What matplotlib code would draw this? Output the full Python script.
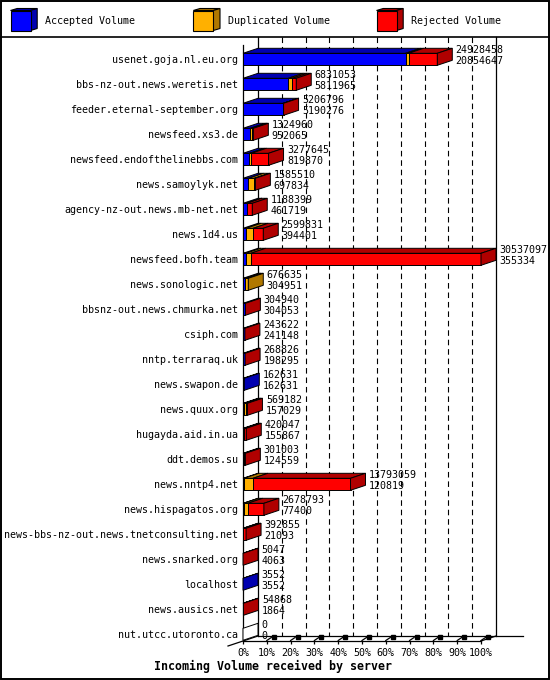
import numpy as np
import matplotlib
matplotlib.use("Agg")
import matplotlib.pyplot as plt
from matplotlib.patches import Polygon, Rectangle

servers = [
    "usenet.goja.nl.eu.org", "bbs-nz-out.news.weretis.net", "feeder.eternal-september.org",
    "newsfeed.xs3.de", "newsfeed.endofthelinebbs.com", "news.samoylyk.net",
    "agency-nz-out.news.mb-net.net", "news.1d4.us", "newsfeed.bofh.team",
    "news.sonologic.net", "bbsnz-out.news.chmurka.net", "csiph.com",
    "nntp.terraraq.uk", "news.swapon.de", "news.quux.org", "hugayda.aid.in.ua",
    "ddt.demos.su", "news.nntp4.net", "news.hispagatos.org",
    "news-bbs-nz-out.news.tnetconsulting.net", "news.snarked.org", "localhost",
    "news.ausics.net", "nut.utcc.utoronto.ca",
]
total_volume = [24928458, 6831053, 5206796, 1324960, 3277645, 1585510, 1188399, 2599831,
                30537097, 676635, 304940, 243622, 268826, 162631, 569182, 420047,
                301003, 13793059, 2678793, 392855, 5047, 3552, 54868, 0]
accepted_volume = [20854647, 5811965, 5190276, 952065, 819870, 697834, 461719, 394401,
                   355334, 304951, 304053, 241148, 198295, 162631, 157029, 155867,
                   124559, 120819, 77400, 21093, 4063, 3552, 1864, 0]
# duplicated volume is not printed on the chart, estimated from the bar segments
duplicated_volume = [400000, 480000, 10000, 180000, 250000, 760000, 20000, 900000,
                     620000, 371684, 0, 0, 0, 0, 200000, 0,
                     0, 1150000, 520000, 0, 0, 0, 0, 0]
rejected_volume = [t - a - d for t, a, d in zip(total_volume, accepted_volume, duplicated_volume)]

series = ["Accepted Volume", "Duplicated Volume", "Rejected Volume"]
front_colors = ["#0000ff", "#ffb000", "#ff0000"]
dark_colors = ["#0000b0", "#b07800", "#b00000"]
pct_ticks = list(range(0, 101, 10))

W, H = 550, 680
MONO = "DejaVu Sans Mono"
FS = 7.2

fig = plt.figure(figsize=(W / 100, H / 100), dpi=100)

# pixel overlay for frame / legend / title
bg = fig.add_axes([0, 0, 1, 1], zorder=0)
bg.set_xlim(0, W)
bg.set_ylim(H, 0)
bg.axis("off")
bg.add_patch(Rectangle((0.7, 0.7), W - 1.4, H - 1.4, fill=False, lw=1.4, ec="black"))
bg.plot([0, W], [36.5, 36.5], color="black", lw=1.2)

leg_x = [10.5, 193.3, 376.5]
leg_tx = [44.6, 227.7, 410.9]
for k in range(3):
    x = leg_x[k]
    y0, s, ddx, ddy = 10.5, 20, 6.7, -2
    bg.add_patch(Polygon([(x, y0), (x + s, y0), (x + s + ddx, y0 + ddy), (x + ddx, y0 + ddy)],
                         closed=True, fc=dark_colors[k], ec="black", lw=0.8))
    bg.add_patch(Polygon([(x + s, y0), (x + s + ddx, y0 + ddy), (x + s + ddx, y0 + s + ddy), (x + s, y0 + s)],
                         closed=True, fc=dark_colors[k], ec="black", lw=0.8))
    bg.add_patch(Rectangle((x, y0), s, s, fc=front_colors[k], ec="black", lw=0.8))
    bg.text(leg_tx[k], 21, series[k], family=MONO, fontsize=FS, va="center", ha="left")

bg.text(273.5, 666, "Incoming Volume received by server", family=MONO, fontsize=8.4,
        fontweight="bold", ha="center", va="center")

# main chart axes: x = percent of the largest total, y = row index
row0_px, row_px = 59.3, 25.0
top_px, bot_px = 45, 641
left_px, right_px = 243, 481
ax = fig.add_axes([left_px / W, 1 - bot_px / H, (right_px - left_px) / W, (bot_px - top_px) / H], zorder=1)
ax.patch.set_visible(False)
ax.set_xlim(0, 100)
ax.set_ylim((bot_px - row0_px) / row_px, (top_px - row0_px) / row_px)
ymax = (bot_px - row0_px) / row_px
px_x = 100 / (right_px - left_px)   # data units per pixel in x
px_y = 1 / row_px                   # data units per pixel in y
dx, dy = 15 * px_x, -5 * px_y       # 3d depth offset
hh = 6 * px_y

for side in ["top", "right"]:
    ax.spines[side].set_visible(False)
for side in ["left", "bottom"]:
    ax.spines[side].set_linewidth(0.9)

ax.set_yticks(range(len(servers)))
ax.set_yticklabels(servers, family=MONO, fontsize=FS)
ax.tick_params(axis="y", length=0, pad=3.4)
ax.set_xticks(pct_ticks)
ax.set_xticklabels([f"{p}%" for p in pct_ticks], family=MONO, fontsize=FS)
ax.tick_params(axis="x", length=2.5, width=0.9, pad=2.5, direction="out")

kw = dict(color="black", lw=0.9, clip_on=False, zorder=1)
y_top_wall = (36.8 - row0_px) / row_px
back_floor = ymax + dy
ax.plot([dx, dx], [y_top_wall, back_floor], **kw)
ax.plot([100 + dx, 100 + dx], [y_top_wall, back_floor], **kw)
ax.plot([dx, (523 - left_px) * px_x], [back_floor, back_floor], **kw)
ax.plot([-dx, dx], [ymax - dy, back_floor], **kw)
ax.plot([100, 100 + dx], [ymax, back_floor], **kw)
for p in pct_ticks[1:-1]:
    ax.plot([p + dx, p + dx], [y_top_wall, back_floor], color="black", lw=0.8,
            dashes=(5, 3.5), clip_on=False, zorder=1)
for p in pct_ticks[1:]:
    ax.plot([p, p + 4.5 * px_x], [ymax - 0.5 * px_y, ymax - 3.5 * px_y], **kw)
    ax.plot([p + 7 * px_x], [ymax - 4 * px_y], marker="s", ms=2.2, color="black",
            clip_on=False, zorder=1)

vmax = max(total_volume)
for i in range(len(servers)):
    vals = [accepted_volume[i], duplicated_volume[i], rejected_volume[i]]
    x0 = 0.0
    last = None
    yt, yb = i - hh, i + hh
    for k, v in enumerate(vals):
        if v <= 0:
            continue
        w = v / vmax * 100
        ax.add_patch(Polygon([(x0, yt), (x0 + w, yt), (x0 + w + dx, yt + dy), (x0 + dx, yt + dy)],
                             closed=True, fc=dark_colors[k], ec="black", lw=0.7, clip_on=False, zorder=3))
        ax.add_patch(Rectangle((x0, yt), w, yb - yt, fc=front_colors[k], ec="black", lw=0.7,
                               clip_on=False, zorder=4))
        x0 += w
        last = k
    side_fc = dark_colors[last] if last is not None else "white"
    ax.add_patch(Polygon([(x0, yt), (x0 + dx, yt + dy), (x0 + dx, yb + dy), (x0, yb)],
                         closed=True, fc=side_fc, ec="black", lw=0.7, clip_on=False, zorder=4))
    tx = x0 + dx + 3.4 * px_x
    ax.text(tx, i - 9.5 * px_y, str(total_volume[i]), family=MONO, fontsize=FS,
            va="center", ha="left", zorder=5, clip_on=False)
    ax.text(tx, i + 1.7 * px_y, str(accepted_volume[i]), family=MONO, fontsize=FS,
            va="center", ha="left", zorder=5, clip_on=False)

fig.savefig("out.png", dpi=100)
